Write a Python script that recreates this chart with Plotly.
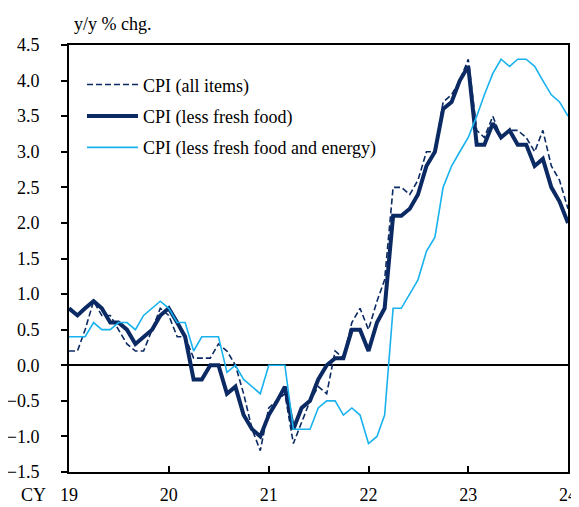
import pandas as pd
import plotly.graph_objects as go

months = pd.date_range("2019-01-01", "2024-01-01", freq="MS")

cpi_all = [
    0.2, 0.2, 0.5, 0.9, 0.7, 0.7, 0.5, 0.3, 0.2, 0.2, 0.5, 0.8,
    0.7, 0.4, 0.4, 0.1, 0.1, 0.1, 0.3, 0.2, 0.0, -0.4, -0.9, -1.2,
    -0.6, -0.5, -0.4, -1.1, -0.8, -0.5, -0.3, -0.4, 0.2, 0.1, 0.6, 0.8,
    0.5, 0.9, 1.2, 2.5, 2.5, 2.4, 2.6, 3.0, 3.0, 3.7, 3.8, 4.0,
    4.3, 3.3, 3.2, 3.5, 3.2, 3.3, 3.3, 3.2, 3.0, 3.3, 2.8, 2.6,
    2.2,
]
cpi_core = [
    0.8, 0.7, 0.8, 0.9, 0.8, 0.6, 0.6, 0.5, 0.3, 0.4, 0.5, 0.7,
    0.8, 0.6, 0.4, -0.2, -0.2, 0.0, 0.0, -0.4, -0.3, -0.7, -0.9, -1.0,
    -0.7, -0.5, -0.3, -0.9, -0.6, -0.5, -0.2, 0.0, 0.1, 0.1, 0.5, 0.5,
    0.2, 0.6, 0.8, 2.1, 2.1, 2.2, 2.4, 2.8, 3.0, 3.6, 3.7, 4.0,
    4.2, 3.1, 3.1, 3.4, 3.2, 3.3, 3.1, 3.1, 2.8, 2.9, 2.5, 2.3,
    2.0,
]
cpi_core_core = [
    0.4, 0.4, 0.4, 0.6, 0.5, 0.5, 0.6, 0.6, 0.5, 0.7, 0.8, 0.9,
    0.8, 0.6, 0.6, 0.2, 0.4, 0.4, 0.4, -0.1, 0.0, -0.2, -0.3, -0.4,
    0.0, 0.0, 0.0, -0.9, -0.9, -0.9, -0.6, -0.5, -0.5, -0.7, -0.6, -0.7,
    -1.1, -1.0, -0.7, 0.8, 0.8, 1.0, 1.2, 1.6, 1.8, 2.5, 2.8, 3.0,
    3.2, 3.5, 3.8, 4.1, 4.3, 4.2, 4.3, 4.3, 4.2, 4.0, 3.8, 3.7,
    3.5,
]

tick_years = ["2019-01-01", "2020-01-01", "2021-01-01", "2022-01-01", "2023-01-01", "2024-01-01"]
tick_labels = ["19", "20", "21", "22", "23", "24"]

NAVY = "#0B2A63"
LIGHT = "#19B2EE"
FONT = "Times New Roman, Liberation Serif, Times, serif"

fig = go.Figure()
fig.add_trace(go.Scatter(x=months, y=cpi_all, mode="lines", name="CPI (all items)",
                         legendgroup="a",
                         line=dict(color=NAVY, width=1.6, dash="6px,3px")))
fig.add_trace(go.Scatter(x=months, y=cpi_core, mode="lines", name="CPI (less fresh food)",
                         legendgroup="b",
                         line=dict(color=NAVY, width=4)))
fig.add_trace(go.Scatter(x=months, y=cpi_core_core, mode="lines",
                         name="CPI (less fresh food and energy)",
                         legendgroup="c",
                         line=dict(color=LIGHT, width=1.6)))

# page body has an 8px margin, so the figure is sized/offset to compensate
fig.update_layout(
    width=571, height=499,
    margin=dict(l=61, r=11, t=37, b=35, autoexpand=False),
    paper_bgcolor="white", plot_bgcolor="white",
    font=dict(family=FONT, size=18, color="black"),
    showlegend=True,
    legend=dict(x=0.026, y=0.95, xanchor="left", yanchor="top",
                bgcolor="rgba(0,0,0,0)", borderwidth=0,
                tracegroupgap=5, itemwidth=51,
                font=dict(family=FONT, size=18, color="black")),
    xaxis=dict(
        type="date", range=["2019-01-01", "2024-01-01"],
        tickmode="array", tickvals=tick_years, ticktext=tick_labels,
        ticks="inside", ticklen=6, tickwidth=1.5, tickcolor="black",
        showline=True, linecolor="black", linewidth=2, mirror=True,
        showgrid=False, zeroline=False, ticklabelstandoff=5,
        automargin=False,
        tickfont=dict(family=FONT, size=18, color="black"),
    ),
    yaxis=dict(
        range=[-1.5, 4.5], dtick=0.5, tick0=0, tickformat=".1f",
        ticks="outside", ticklen=6, tickwidth=1.5, tickcolor="black",
        showline=True, linecolor="black", linewidth=2, mirror=True,
        showgrid=False,
        zeroline=True, zerolinecolor="black", zerolinewidth=1.5,
        ticklabelstandoff=18, automargin=False,
        tickfont=dict(family=FONT, size=18, color="black"),
    ),
    annotations=[
        dict(text="y/y % chg.", xref="paper", yref="paper", x=0, y=1,
             xanchor="left", yanchor="middle", xshift=3, yshift=21,
             showarrow=False, font=dict(family=FONT, size=18, color="black")),
        dict(text="CY", xref="paper", yref="paper", x=0, y=0,
             xanchor="right", yanchor="middle", xshift=-21, yshift=-23,
             showarrow=False, font=dict(family=FONT, size=18, color="black")),
    ],
)

fig.write_html("out.html")
